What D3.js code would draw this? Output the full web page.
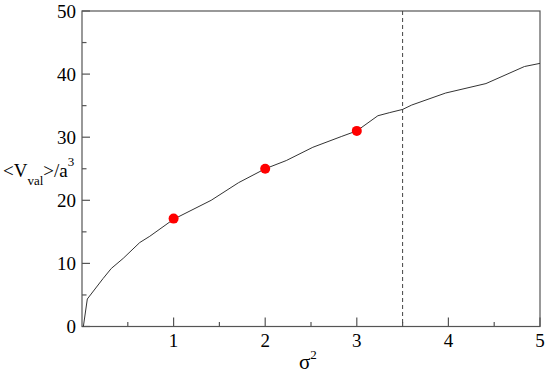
<!DOCTYPE html>
<html><head><meta charset="utf-8">
<script src="https://cdn.jsdelivr.net/npm/d3@7"></script>
<style>body{margin:0;background:#fff}svg{display:block}text{font-family:"Times New Roman","Liberation Serif",Times,serif}</style>
</head><body><svg id="c" width="550" height="377"></svg>
<script>
const curveX = [0.015, 0.058, 0.23, 0.32, 0.45, 0.63, 0.74, 1.0, 1.41, 1.71, 2.0, 2.23, 2.52, 2.83, 3.0, 3.23, 3.36, 3.5, 3.6, 3.97, 4.41, 4.83, 5.0];
const curveY = [0, 4.36, 7.6, 9.2, 10.8, 13.3, 14.3, 17.0, 20.0, 22.8, 25.0, 26.3, 28.4, 30.1, 31.0, 33.4, 33.9, 34.4, 35.1, 37.0, 38.5, 41.2, 41.7];
const dotX = [1, 2, 3];
const dotY = [17.1, 25.0, 31.0];
const xTicks = [1, 2, 3, 4, 5];
const yTicks = [0, 10, 20, 30, 40, 50];
const xMinor = [0.5, 1.5, 2.5, 3.5, 4.5];
const yMinor = [5, 15, 25, 35, 45];
const cutoff = 3.5;

const svg = d3.select("#c");
const L = 82, R = 540, T = 11, B = 326.5;
const x = d3.scaleLinear().domain([0, 5]).range([L, R]);
const y = d3.scaleLinear().domain([0, 50]).range([B, T]);
const axCol = "#555";

svg.append("rect").attr("x", L).attr("y", T).attr("width", R - L).attr("height", B - T)
  .attr("fill", "none").attr("stroke", axCol).attr("stroke-width", 1.2);

const gx = svg.append("g");
xTicks.forEach(v => gx.append("line").attr("x1", x(v)).attr("x2", x(v)).attr("y1", B).attr("y2", B - 9).attr("stroke", axCol).attr("stroke-width", 1.2));
xMinor.forEach(v => gx.append("line").attr("x1", x(v)).attr("x2", x(v)).attr("y1", B).attr("y2", B - 4.5).attr("stroke", axCol).attr("stroke-width", 1.2));
xTicks.forEach(v => gx.append("text").attr("x", x(v)).attr("y", B + 20).attr("text-anchor", "middle")
  .style("font-size", "19px").attr("fill", "#000").text(v));
yTicks.forEach(v => gx.append("line").attr("x1", L).attr("x2", L + 8).attr("y1", y(v)).attr("y2", y(v)).attr("stroke", axCol).attr("stroke-width", 1.2));
yMinor.forEach(v => gx.append("line").attr("x1", L).attr("x2", L + 4.5).attr("y1", y(v)).attr("y2", y(v)).attr("stroke", axCol).attr("stroke-width", 1.2));
yTicks.forEach(v => gx.append("text").attr("x", L - 6).attr("y", y(v) + 6.5).attr("text-anchor", "end")
  .style("font-size", "19px").attr("fill", "#000").text(v));

svg.append("line").attr("x1", x(cutoff)).attr("x2", x(cutoff)).attr("y1", T).attr("y2", B)
  .attr("stroke", "#444").attr("stroke-width", 1).attr("stroke-dasharray", "4,3");

const pts = curveX.map((v, i) => [v, curveY[i]]);
svg.append("path").datum(pts)
  .attr("d", d3.line().x(d => x(d[0])).y(d => y(d[1])))
  .attr("fill", "none").attr("stroke", "#333").attr("stroke-width", 1);

svg.selectAll("circle.d").data(dotX.map((v, i) => [v, dotY[i]])).enter().append("circle")
  .attr("cx", d => x(d[0])).attr("cy", d => y(d[1])).attr("r", 5).attr("fill", "#ff0000");

const xl = svg.append("text").attr("x", 299).attr("y", 369).style("font-size", "21px").attr("fill", "#000");
xl.append("tspan").text("σ");
xl.append("tspan").style("font-size", "13px").attr("dy", -10).text("2");

const yl = svg.append("text").attr("x", 3).attr("y", 177).style("font-size", "19px").attr("fill", "#000");
yl.append("tspan").text("<V");
yl.append("tspan").style("font-size", "13px").attr("dy", 8).text("val");
yl.append("tspan").attr("dy", -8).text(">/a");
yl.append("tspan").style("font-size", "13px").attr("dy", -11).text("3");
</script></body></html>
